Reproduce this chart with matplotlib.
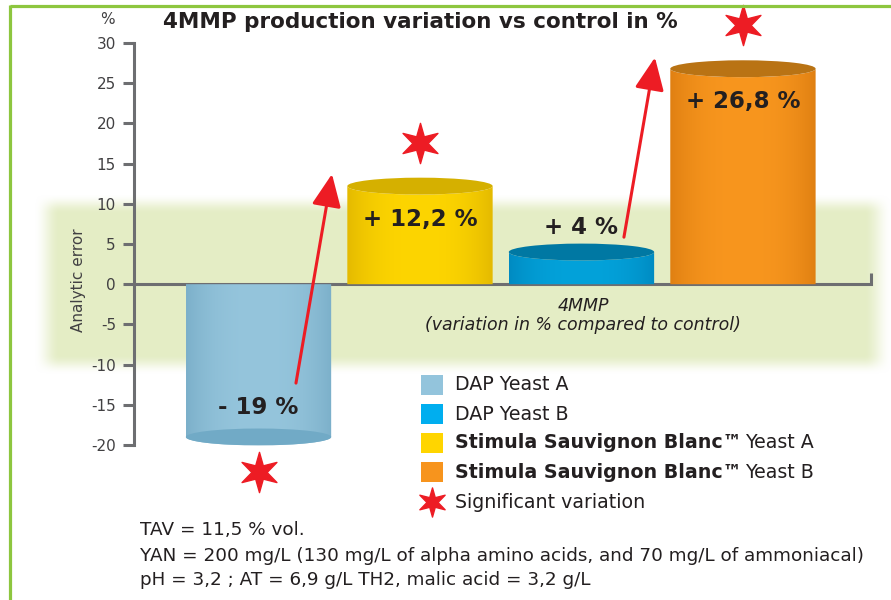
import numpy as np
import matplotlib
matplotlib.use("Agg")
import matplotlib.pyplot as plt
from matplotlib.patches import Ellipse, PathPatch, Rectangle
from matplotlib.path import Path

plt.rcParams['font.family'] = ['DejaVu Sans']

# ---------------- data ----------------
bar_series = ["DAP Yeast A", "Stimula Sauvignon Blanc™ Yeast A",
              "DAP Yeast B", "Stimula Sauvignon Blanc™ Yeast B"]
bar_values = [-19.0, 12.2, 4.0, 26.8]
bar_labels = ["- 19 %", "+ 12,2 %", "+ 4 %", "+ 26,8 %"]
significant = [True, True, False, True]

legend_bold = ["", "", "Stimula Sauvignon Blanc™", "Stimula Sauvignon Blanc™"]
legend_regular = ["DAP Yeast A", "DAP Yeast B", "Yeast A", "Yeast B"]
legend_star_label = "Significant variation"

y_ticks = [-20, -15, -10, -5, 0, 5, 10, 15, 20, 25, 30]
analytic_error = 10.0

title = "4MMP production variation vs control in %"
x_label_1 = "4MMP"
x_label_2 = "(variation in % compared to control)"
footnotes = ["TAV = 11,5 % vol.",
             "YAN = 200 mg/L (130 mg/L of alpha amino acids, and 70 mg/L of ammoniacal)",
             "pH = 3,2 ; AT = 6,9 g/L TH2, malic acid = 3,2 g/L"]

# ---------------- style ----------------
body_center = {"DAP Yeast A": "#95c5dc", "Stimula Sauvignon Blanc™ Yeast A": "#fdd500",
               "DAP Yeast B": "#03a2da", "Stimula Sauvignon Blanc™ Yeast B": "#f8961e"}
body_edge = {"DAP Yeast A": "#7cb0ca", "Stimula Sauvignon Blanc™ Yeast A": "#e4ba00",
             "DAP Yeast B": "#008bc2", "Stimula Sauvignon Blanc™ Yeast B": "#e08012"}
cap_color = {"DAP Yeast A": "#71aac6", "Stimula Sauvignon Blanc™ Yeast A": "#d5b000",
             "DAP Yeast B": "#0078a3", "Stimula Sauvignon Blanc™ Yeast B": "#b97314"}
legend_colors = ["#93c4dc", "#00aeef", "#ffd500", "#f7941d"]
RED = "#ed1c24"
GRAY = "#6d6e71"
TXT = "#231f20"
GREEN = "#8dc63f"
BAND = np.array([0.898, 0.933, 0.776])

W, H = 891, 600
fig = plt.figure(figsize=(W / 100, H / 100), dpi=100)
fig.patch.set_facecolor("white")

bg = fig.add_axes([0, 0, 1, 1], zorder=0)
bg.set_xlim(0, W); bg.set_ylim(H, 0); bg.axis("off")

ax = fig.add_axes([134 / W, 1 - 445 / H, (871 - 134) / W, (445 - 43) / H], zorder=1)
ax.set_facecolor("none")
XL = (-0.771, 3.793)
ax.set_xlim(*XL)
ax.set_ylim(-20, 30)

over = fig.add_axes([0, 0, 1, 1], zorder=3)
over.set_xlim(0, W); over.set_ylim(H, 0); over.axis("off")
over.patch.set_alpha(0)

# axes styling
for s in ["top", "right", "bottom"]:
    ax.spines[s].set_visible(False)
ax.spines["left"].set_color(GRAY)
ax.spines["left"].set_linewidth(2.2)
ax.set_xticks([])
ax.set_yticks(y_ticks)
ax.set_yticklabels([str(t) for t in y_ticks])
ax.tick_params(axis="y", length=8, width=2.2, color=GRAY, labelsize=11,
               labelcolor="#414042", pad=5)

# analytic error band (soft edges), aligned with data +/- analytic_error
disp = ax.transData.transform([(0, analytic_error), (0, -analytic_error)])
top_px = H - disp[0, 1]
bot_px = H - disp[1, 1]
xs = np.arange(W) + 0.5
ys = np.arange(H) + 0.5
def soft(t):
    t = np.clip(t, 0, 1)
    return t * t * (3 - 2 * t)
fx = soft((xs - 34) / 26) * soft((892 - xs) / 28)
fy = soft((ys - (top_px - 10)) / 20) * soft(((bot_px + 10) - ys) / 20)
alpha = np.outer(fy, fx)
img = np.zeros((H, W, 4))
img[..., :3] = BAND
img[..., 3] = alpha
bg.imshow(img, extent=(0, W, H, 0), aspect="auto", interpolation="bilinear", zorder=0)
bg.set_xlim(0, W); bg.set_ylim(H, 0)

# zero line with small end tick
ax.plot([XL[0], XL[1], XL[1]], [0, 0, 1.35], color=GRAY, lw=2.2,
        clip_on=False, zorder=2, solid_joinstyle="miter", solid_capstyle="butt")

# bars as cylinders
bw = 0.9
ell_h = 2.1
xpos = np.arange(len(bar_values))
th = np.linspace(np.pi, 2 * np.pi, 80)
for i, (name, v) in enumerate(zip(bar_series, bar_values)):
    x0, x1 = xpos[i] - bw / 2, xpos[i] + bw / 2
    arc = np.column_stack([xpos[i] + bw / 2 * np.cos(th), v + ell_h / 2 * np.sin(th)])
    verts = np.vstack([[(x0, 0)], arc, [(x1, 0)], [(x0, 0)]])
    patch = PathPatch(Path(verts), fc="none", ec="none", transform=ax.transData)
    ax.add_patch(patch)
    t = np.linspace(-1, 1, 200)
    wgt = 1 - np.abs(t) ** 2.5
    c0 = np.array(matplotlib.colors.to_rgb(body_center[name]))
    c1 = np.array(matplotlib.colors.to_rgb(body_edge[name]))
    row = c1[None, :] + (c0 - c1)[None, :] * wgt[:, None]
    grad = np.repeat(row[None, :, :], 4, axis=0)
    ylo = min(0, v) - ell_h / 2 - 0.1
    yhi = max(0, v) + ell_h / 2 + 0.1
    im = ax.imshow(grad, extent=(x0, x1, ylo, yhi), aspect="auto",
                   interpolation="bilinear", zorder=3)
    im.set_clip_box(None)
    im.set_clip_path(patch)
    ax.add_patch(Ellipse((xpos[i], v), bw, ell_h, fc=cap_color[name], ec="none",
                         zorder=4, clip_on=False))

ax.set_xlim(*XL)
ax.set_ylim(-20, 30)

# value labels
for i, (v, lab) in enumerate(zip(bar_values, bar_labels)):
    if v < 0:
        ly = v + 3.7
    elif v < 8:
        ly = v + 3.0
    else:
        ly = v - 4.1
    ax.text(xpos[i], ly, lab, ha="center", va="center", fontsize=16.5,
            fontweight="bold", color=TXT, zorder=6)

# star marker
def star_path(n=6, inner=0.38):
    k = np.arange(2 * n)
    ang = np.pi / 2 + k * np.pi / n
    r = np.where(k % 2 == 0, 1.0, inner)
    v = np.column_stack([r * np.cos(ang), r * np.sin(ang)])
    v = np.vstack([v, v[:1]])
    codes = [Path.MOVETO] + [Path.LINETO] * (2 * n - 1) + [Path.CLOSEPOLY]
    return Path(v, codes)
STAR = star_path()

for i, (v, sig) in enumerate(zip(bar_values, significant)):
    if sig:
        sy = v - 4.4 if v < 0 else v + 5.4
        ax.plot([xpos[i]], [sy], marker=STAR, ms=29, color=RED, ls="none",
                clip_on=False, zorder=6)

# arrows (annotations)
for (xs_, ys_), (xt_, yt_) in [((0.232, -12.3), (0.455, 13.7)),
                               ((2.263, 5.85), (2.455, 28.2))]:
    ax.annotate("", xy=(xt_, yt_), xytext=(xs_, ys_), annotation_clip=False,
                arrowprops=dict(arrowstyle="-|>,head_length=2.0,head_width=0.9",
                                color=RED, lw=2.2, shrinkA=0, shrinkB=0,
                                mutation_scale=10), zorder=7)

# texts
over.text(163, 22, title, ha="left", va="center", fontsize=15.5, fontweight="bold", color=TXT)
over.text(107, 20, "%", ha="center", va="center", fontsize=11, color="#414042")
over.text(78, 280, "Analytic error", ha="center", va="center", rotation=90,
          fontsize=11, color="#414042")
over.text(583, 306, x_label_1, ha="center", va="center", fontsize=12.5,
          style="italic", color=TXT)
over.text(583, 325, x_label_2, ha="center", va="center", fontsize=12.5,
          style="italic", color=TXT)

# legend
renderer = fig.canvas.get_renderer()
row_y = [385, 414, 443, 472]
for yy, col, b, r in zip(row_y, legend_colors, legend_bold, legend_regular):
    over.add_patch(Rectangle((421, yy - 10), 22, 20, fc=col, ec="none"))
    xtxt = 455
    if b:
        tb = over.text(xtxt, yy, b, ha="left", va="center", fontsize=13.7,
                       fontweight="bold", color=TXT)
        bb = tb.get_window_extent(renderer)
        xtxt = bb.x1 + 3
    over.text(xtxt, yy, r, ha="left", va="center", fontsize=13.7, color=TXT)
over.plot([432], [502], marker=STAR, ms=21, color=RED, ls="none")
over.text(455, 502, legend_star_label, ha="left", va="center", fontsize=13.7, color=TXT)

# footnotes
for yy, s in zip([530, 556, 580], footnotes):
    over.text(140, yy, s, ha="left", va="center", fontsize=13.2, color=TXT)

# green frame
over.plot([9.5, W], [6, 6], color=GREEN, lw=2.3, solid_capstyle="butt")
over.plot([9.5, 9.5], [4.9, H], color=GREEN, lw=2.3, solid_capstyle="butt")

fig.savefig("out.png", dpi=100)
